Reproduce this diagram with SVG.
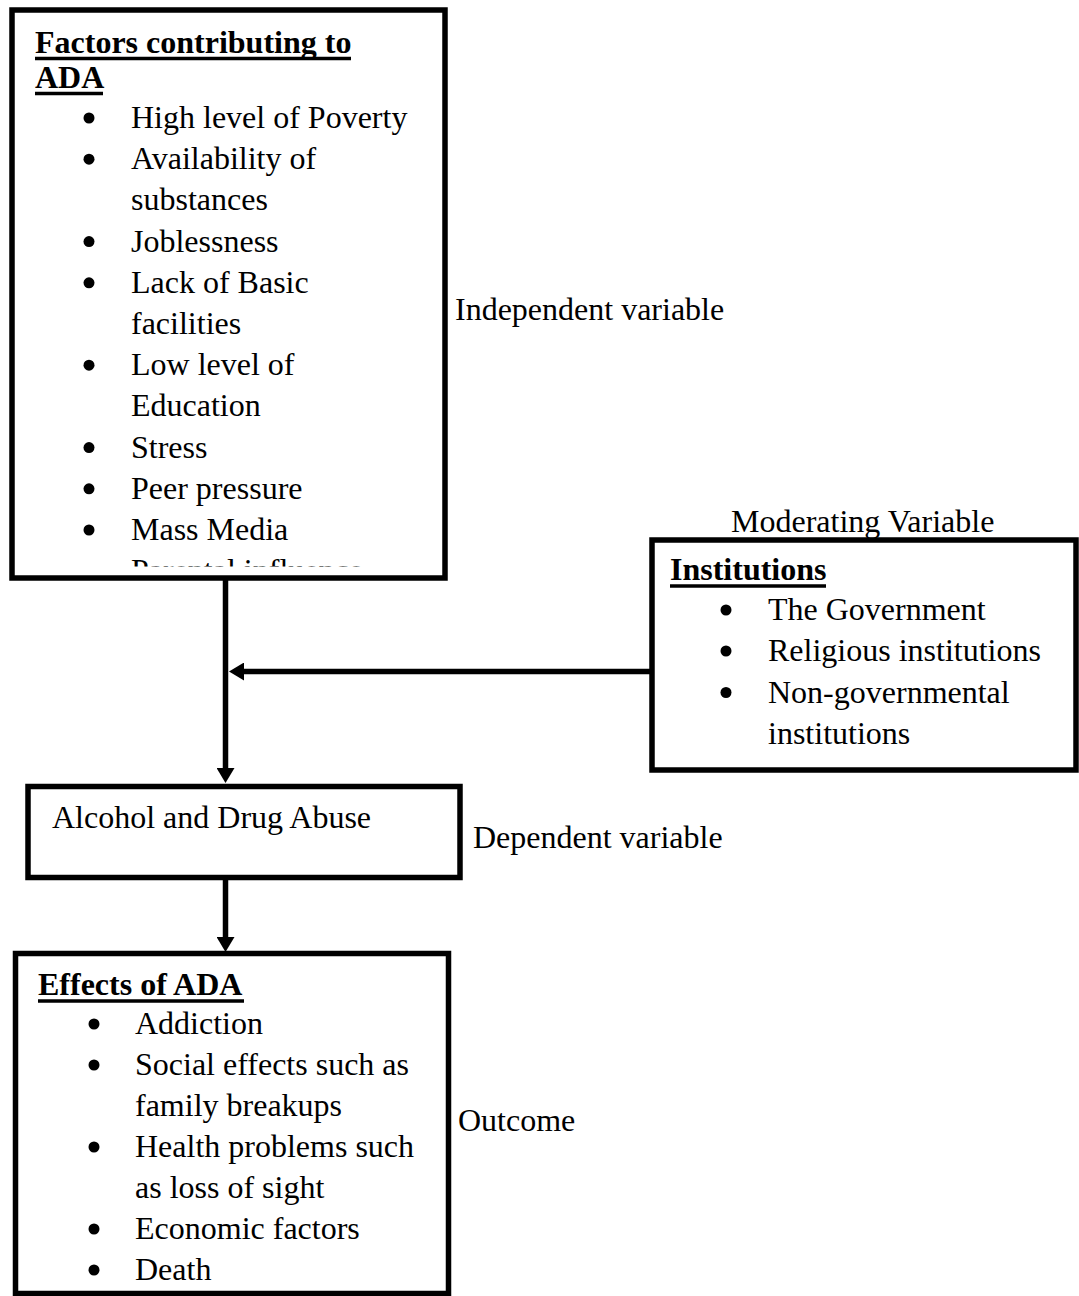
<svg xmlns="http://www.w3.org/2000/svg" width="1079" height="1296" viewBox="0 0 1079 1296">
<style>
.box{fill:#fff;stroke:#000;stroke-width:5.5}
.t{font-family:"Liberation Serif","Times New Roman",serif;font-size:32px;fill:#000}
.b{font-weight:bold}
.ul{stroke:#000;stroke-width:3.5}
.conn{stroke:#000;stroke-width:5.5;fill:none}
</style>
<defs>
<marker id="ah" markerUnits="userSpaceOnUse" markerWidth="16" markerHeight="18" refX="1" refY="9" orient="auto">
<path d="M0,0 L15,9 L0,18 Z" fill="#000"/>
</marker>
<clipPath id="clipTop"><rect x="0" y="0" width="450" height="566.5"/></clipPath>
</defs>
<rect width="1079" height="1296" fill="#fff"/>

<g id="connectors">
<line class="conn" x1="225.5" y1="580" x2="225.5" y2="769" marker-end="url(#ah)"/>
<line class="conn" x1="652" y1="671.5" x2="243" y2="671.5" marker-end="url(#ah)"/>
<line class="conn" x1="225.5" y1="880" x2="225.5" y2="938" marker-end="url(#ah)"/>
</g>

<g id="factors">
<rect class="box" x="12" y="10" width="433" height="568"/>
<text class="t b" x="35" y="53">Factors contributing to</text>
<line class="ul" x1="35" y1="58.5" x2="351" y2="58.5"/>
<text class="t b" x="35" y="88">ADA</text>
<line class="ul" x1="35" y1="93.5" x2="103" y2="93.5"/>
<g fill="#000">
<circle cx="89" cy="118" r="5.5"/>
<circle cx="89" cy="159.2" r="5.5"/>
<circle cx="89" cy="241.6" r="5.5"/>
<circle cx="89" cy="282.8" r="5.5"/>
<circle cx="89" cy="365.2" r="5.5"/>
<circle cx="89" cy="447.6" r="5.5"/>
<circle cx="89" cy="488.8" r="5.5"/>
<circle cx="89" cy="530" r="5.5"/>
</g>
<text class="t" x="131" y="128">High level of Poverty</text>
<text class="t" x="131" y="169.2">Availability of</text>
<text class="t" x="131" y="210.4">substances</text>
<text class="t" x="131" y="251.6">Joblessness</text>
<text class="t" x="131" y="292.8">Lack of Basic</text>
<text class="t" x="131" y="334">facilities</text>
<text class="t" x="131" y="375.2">Low level of</text>
<text class="t" x="131" y="416.4">Education</text>
<text class="t" x="131" y="457.6">Stress</text>
<text class="t" x="131" y="498.8">Peer pressure</text>
<text class="t" x="131" y="540">Mass Media</text>
<g clip-path="url(#clipTop)">
<text class="t" x="131" y="581.2">Parental influence</text>
</g>
</g>

<g id="label-independent">
<text class="t" x="455" y="320">Independent variable</text>
</g>

<g id="institutions">
<text class="t" x="731" y="532">Moderating Variable</text>
<rect class="box" x="652" y="540" width="424" height="230"/>
<text class="t b" x="670" y="580">Institutions</text>
<line class="ul" x1="670" y1="586" x2="826" y2="586"/>
<g fill="#000">
<circle cx="726" cy="610" r="5.5"/>
<circle cx="726" cy="651" r="5.5"/>
<circle cx="726" cy="692.5" r="5.5"/>
</g>
<text class="t" x="768" y="620">The Government</text>
<text class="t" x="768" y="661">Religious institutions</text>
<text class="t" x="768" y="702.5">Non-governmental</text>
<text class="t" x="768" y="744">institutions</text>
</g>

<g id="ada">
<rect class="box" x="28" y="786.5" width="432" height="91"/>
<text class="t" x="52" y="828">Alcohol and Drug Abuse</text>
</g>

<g id="label-dependent">
<text class="t" x="473" y="848">Dependent variable</text>
</g>

<g id="effects">
<rect class="box" x="15.5" y="953.5" width="433" height="340"/>
<text class="t b" x="38" y="995">Effects of ADA</text>
<line class="ul" x1="38" y1="1001" x2="244" y2="1001"/>
<g fill="#000">
<circle cx="94" cy="1024" r="5.5"/>
<circle cx="94" cy="1065" r="5.5"/>
<circle cx="94" cy="1147" r="5.5"/>
<circle cx="94" cy="1229" r="5.5"/>
<circle cx="94" cy="1270" r="5.5"/>
</g>
<text class="t" x="135" y="1034">Addiction</text>
<text class="t" x="135" y="1075">Social effects such as</text>
<text class="t" x="135" y="1116">family breakups</text>
<text class="t" x="135" y="1157">Health problems such</text>
<text class="t" x="135" y="1198">as loss of sight</text>
<text class="t" x="135" y="1239">Economic factors</text>
<text class="t" x="135" y="1280">Death</text>
</g>

<g id="label-outcome">
<text class="t" x="458" y="1131">Outcome</text>
</g>
</svg>
